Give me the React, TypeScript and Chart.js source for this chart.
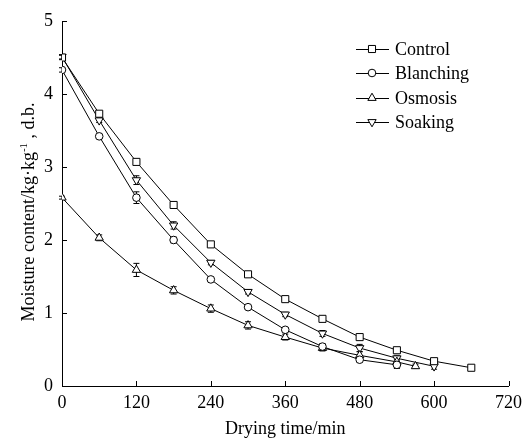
import React, { useEffect, useRef } from "react";
import { Chart, registerables } from "chart.js";
import { drawPoint } from "chart.js/helpers";

Chart.register(...registerables);

// ---- Data ----
const controlTimes = [0, 60, 120, 180, 240, 300, 360, 420, 480, 540, 600, 660];
const controlValues = [4.5, 3.73, 3.07, 2.48, 1.94, 1.53, 1.19, 0.92, 0.67, 0.49, 0.34, 0.25];
const controlErrors = [0.03, 0.03, 0.03, 0.04, 0.03, 0.03, 0.02, 0.02, 0.02, 0.02, 0.02, 0.02];

const blanchingTimes = [0, 60, 120, 180, 240, 300, 360, 420, 480, 540];
const blanchingValues = [4.33, 3.42, 2.58, 2.0, 1.46, 1.08, 0.77, 0.54, 0.36, 0.29];
const blanchingErrors = [0.03, 0.03, 0.08, 0.04, 0.03, 0.03, 0.03, 0.04, 0.03, 0.05];

const osmosisTimes = [0, 60, 120, 180, 240, 300, 360, 420, 480, 540, 570];
const osmosisValues = [2.58, 2.03, 1.59, 1.31, 1.06, 0.83, 0.67, 0.52, 0.42, 0.33, 0.27];
const osmosisErrors = [0.02, 0.04, 0.09, 0.05, 0.05, 0.05, 0.04, 0.04, 0.05, 0.04, 0.03];

const soakingTimes = [0, 60, 120, 180, 240, 300, 360, 420, 480, 540, 600];
const soakingValues = [4.51, 3.64, 2.82, 2.2, 1.69, 1.29, 0.98, 0.72, 0.52, 0.38, 0.27];
const soakingErrors = [0.03, 0.03, 0.06, 0.05, 0.03, 0.03, 0.03, 0.04, 0.05, 0.04, 0.04];

const seriesNames = ["Control", "Blanching", "Osmosis", "Soaking"];

const xTicks = { min: 0, max: 720, step: 120 };
const yTicks = { min: 0, max: 5, step: 1 };

const xTitle = "Drying time/min";
const yTitleMain = "Moisture content/kg·kg";
const yTitleSup = "-1";
const yTitleEnd = " , d.b.";

const FONT = "'Liberation Serif', 'Times New Roman', serif";

type Style = { pointStyle: any; rotation: number; radius: number };
const styles: Style[] = [
  { pointStyle: "rect", rotation: 0, radius: 5 },
  { pointStyle: "circle", rotation: 0, radius: 3.8 },
  { pointStyle: "triangle", rotation: 0, radius: 4.8 },
  { pointStyle: "triangle", rotation: 180, radius: 4.8 },
];

const toPoints = (xs: number[], ys: number[]) => xs.map((x, i) => ({ x, y: ys[i] }));

const errorSets = [controlErrors, blanchingErrors, osmosisErrors, soakingErrors];

const errorBarPlugin = {
  id: "errorBars",
  beforeDatasetsDraw(chart: any) {
    const ctx = chart.ctx;
    const yScale = chart.scales.y;
    ctx.save();
    ctx.strokeStyle = "#000";
    ctx.lineWidth = 1;
    chart.data.datasets.forEach((ds: any, di: number) => {
      const meta = chart.getDatasetMeta(di);
      const errs = errorSets[di];
      meta.data.forEach((pt: any, i: number) => {
        const v = ds.data[i].y;
        const e = errs[i] || 0;
        const yTop = yScale.getPixelForValue(v + e);
        const yBot = yScale.getPixelForValue(v - e);
        const x = pt.x;
        ctx.beginPath();
        ctx.moveTo(x, yTop);
        ctx.lineTo(x, yBot);
        ctx.moveTo(x - 3, yTop);
        ctx.lineTo(x + 3, yTop);
        ctx.moveTo(x - 3, yBot);
        ctx.lineTo(x + 3, yBot);
        ctx.stroke();
      });
    });
    ctx.restore();
  },
};

const decorPlugin = {
  id: "decor",
  afterDraw(chart: any) {
    const ctx = chart.ctx;
    const xs = chart.scales.x;
    const ys = chart.scales.y;
    const area = chart.chartArea;
    ctx.save();
    ctx.strokeStyle = "#000";
    ctx.lineWidth = 1;
    // inward tick marks
    ctx.beginPath();
    xs.ticks.forEach((t: any) => {
      const px = Math.round(xs.getPixelForValue(t.value)) + 0.5;
      ctx.moveTo(px, area.bottom);
      ctx.lineTo(px, area.bottom - 5);
    });
    ys.ticks.forEach((t: any) => {
      const py = Math.round(ys.getPixelForValue(t.value)) + 0.5;
      ctx.moveTo(area.left, py);
      ctx.lineTo(area.left + 5, py);
    });
    ctx.stroke();

    // x title
    ctx.fillStyle = "#000";
    ctx.font = `18px ${FONT}`;
    ctx.textAlign = "center";
    ctx.textBaseline = "alphabetic";
    ctx.fillText(xTitle, (area.left + area.right) / 2, 434);

    // y title (rotated, with superscript)
    ctx.save();
    ctx.translate(34, 212);
    ctx.rotate(-Math.PI / 2);
    ctx.textAlign = "left";
    ctx.font = `18px ${FONT}`;
    const w1 = ctx.measureText(yTitleMain).width;
    const w3 = ctx.measureText(yTitleEnd).width;
    ctx.font = `11px ${FONT}`;
    const w2 = ctx.measureText(yTitleSup).width;
    let x0 = -(w1 + w2 + w3) / 2;
    ctx.font = `18px ${FONT}`;
    ctx.fillText(yTitleMain, x0, 0);
    x0 += w1;
    ctx.font = `11px ${FONT}`;
    ctx.fillText(yTitleSup, x0, -7);
    x0 += w2;
    ctx.font = `18px ${FONT}`;
    ctx.fillText(yTitleEnd, x0, 0);
    ctx.restore();

    // legend
    const rows = [49, 73, 98, 122];
    seriesNames.forEach((name, i) => {
      const y = rows[i];
      ctx.strokeStyle = "#000";
      ctx.lineWidth = 1;
      ctx.beginPath();
      ctx.moveTo(356, y + 0.5);
      ctx.lineTo(389, y + 0.5);
      ctx.stroke();
      ctx.fillStyle = "#fff";
      drawPoint(
        ctx,
        { pointStyle: styles[i].pointStyle, rotation: styles[i].rotation, radius: styles[i].radius, borderWidth: 1 } as any,
        372,
        y
      );
      ctx.fillStyle = "#000";
      ctx.font = `18px ${FONT}`;
      ctx.textAlign = "left";
      ctx.textBaseline = "middle";
      ctx.fillText(name, 395, y + 1);
    });
    ctx.restore();
  },
};

export default function App() {
  const ref = useRef<HTMLCanvasElement | null>(null);

  useEffect(() => {
    document.body.style.margin = "0";
    if (!ref.current) return;
    Chart.defaults.font.family = FONT;
    Chart.defaults.font.size = 18;
    Chart.defaults.color = "#000";

    const seriesTimes = [controlTimes, blanchingTimes, osmosisTimes, soakingTimes];
    const seriesValues = [controlValues, blanchingValues, osmosisValues, soakingValues];

    const chart = new Chart(ref.current, {
      type: "line",
      data: {
        datasets: seriesNames.map((name, i) => ({
          label: name,
          data: toPoints(seriesTimes[i], seriesValues[i]),
          borderColor: "#000",
          borderWidth: 1,
          backgroundColor: "#fff",
          pointBackgroundColor: "#fff",
          pointBorderColor: "#000",
          pointBorderWidth: 1,
          pointStyle: styles[i].pointStyle,
          pointRotation: styles[i].rotation,
          pointRadius: styles[i].radius,
          tension: 0,
          fill: false,
        })),
      },
      options: {
        animation: false,
        responsive: false,
        devicePixelRatio: 1,
        layout: { padding: { top: 21, right: 15, left: 0, bottom: 0 } },
        plugins: {
          legend: { display: false },
          tooltip: { enabled: false },
        },
        scales: {
          x: {
            type: "linear",
            min: xTicks.min,
            max: xTicks.max,
            ticks: { stepSize: xTicks.step, padding: 6, font: { size: 18, family: FONT }, color: "#000", maxRotation: 0 },
            grid: { display: true, drawOnChartArea: false, drawTicks: false },
            border: { display: true, color: "#000", width: 1 },
            afterFit: (s: any) => {
              s.height = 52;
            },
          },
          y: {
            type: "linear",
            min: yTicks.min,
            max: yTicks.max,
            ticks: { stepSize: yTicks.step, padding: 9, font: { size: 18, family: FONT }, color: "#000" },
            grid: { display: true, drawOnChartArea: false, drawTicks: false },
            border: { display: true, color: "#000", width: 1 },
            afterFit: (s: any) => {
              s.width = 62;
            },
          },
        },
      },
      plugins: [errorBarPlugin, decorPlugin],
    } as any);

    return () => chart.destroy();
  }, []);

  return (
    <div style={{ position: "absolute", left: 0, top: 0, width: 528, height: 438, background: "#fff" }}>
      <canvas ref={ref} width={528} height={438} style={{ width: 528, height: 438, display: "block" }} />
    </div>
  );
}
